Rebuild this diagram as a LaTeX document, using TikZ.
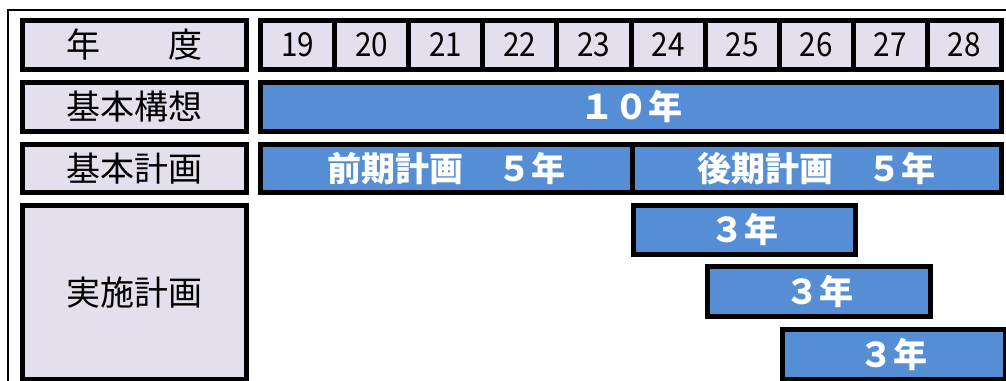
\documentclass[tikz,border=0pt]{standalone}
\usepackage{fontspec}
\newfontfamily\jp{Noto Sans CJK JP}
\newfontfamily\jpnum[FakeStretch=0.9]{Noto Sans CJK JP}
\definecolor{lav}{HTML}{E4DFEC}
\definecolor{barblue}{HTML}{558ED5}
\begin{document}
\begin{tikzpicture}[x=1pt,y=-1pt,
  lbl/.style={draw=black,line width=5pt,fill=lav,inner sep=0pt,font=\jp\fontsize{34}{34}\selectfont,text=black},
  yr/.style={draw=black,line width=5pt,fill=lav,inner sep=0pt,minimum width=74.1pt,minimum height=49pt,font=\jpnum\fontsize{33}{33}\selectfont,text=black},
  bar/.style={draw=black,line width=5pt,fill=barblue,inner sep=0pt,font=\jp\bfseries\fontsize{34}{34}\selectfont,text=white}]
\useasboundingbox (0,0) rectangle (1006,380);
\clip (0,0) rectangle (1006,380);
\fill[white] (0,0) rectangle (1006,380);
\coordinate (fa) at (8,381);
\coordinate (fb) at (8,10);
\coordinate (fc) at (1007,10);
\draw[line width=2pt] (fa) -- (fb) -- (fc);
% labels
\node[lbl,minimum width=224pt,minimum height=49pt] (ly) at (134.5,45) {年　　度};
\node[lbl,minimum width=224pt,minimum height=49pt] (lk) at (134.5,107) {基本構想};
\node[lbl,minimum width=224pt,minimum height=48pt] (lp) at (134.5,168.5) {基本計画};
\node[lbl,minimum width=224pt,minimum height=174pt] (li) at (134.5,292.5) {実施計画};
% years
\foreach \y [count=\i from 0] in {19,20,21,22,23,24,25,26,27,28}{
  \node[yr] (y\y) at ({260.5+74.1*(\i+0.5)},45) {\y};
}
% bars
\node[bar,minimum width=741pt,minimum height=49pt] (b10) at (631,107) {１０年};
\node[bar,minimum width=371.5pt,minimum height=48pt] (bz) at (446.25,168.5) {前期計画　５年};
\node[bar,minimum width=369.5pt,minimum height=48pt] (bk) at (816.75,168.5) {後期計画　５年};
\node[bar,minimum width=222pt,minimum height=49pt] (j1) at (744.5,230) {３年};
\node[bar,minimum width=223pt,minimum height=50pt] (j2) at (819,291.5) {３年};
\node[bar,minimum width=223pt,minimum height=50pt] (j3) at (893.5,354.5) {３年};
\end{tikzpicture}
\end{document}
